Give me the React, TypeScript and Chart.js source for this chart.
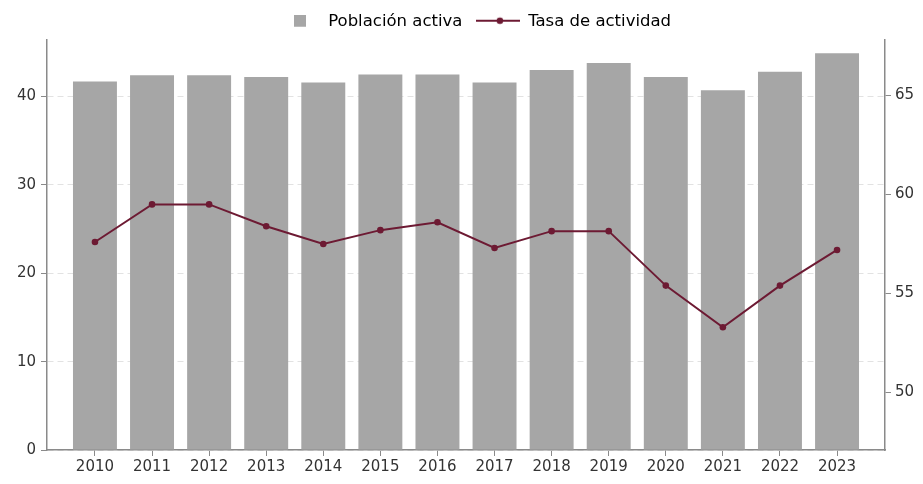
import React, { useEffect, useRef } from "react";
import { Chart, registerables } from "chart.js";

Chart.register(...registerables);

const YEARS = [2010, 2011, 2012, 2013, 2014, 2015, 2016, 2017, 2018, 2019, 2020, 2021, 2022, 2023];
const POBLACION_ACTIVA = [41.7, 42.4, 42.4, 42.2, 41.6, 42.5, 42.5, 41.6, 43.0, 43.8, 42.2, 40.7, 42.8, 44.9];
const TASA_ACTIVIDAD = [57.6, 59.5, 59.5, 58.4, 57.5, 58.2, 58.6, 57.3, 58.15, 58.15, 55.4, 53.3, 55.4, 57.2];
const LEFT_TICKS = [0, 10, 20, 30, 40];
const RIGHT_TICKS = [50, 55, 60, 65];
const LABEL_BAR = "Población activa";
const LABEL_LINE = "Tasa de actividad";

const BAR_COLOR = "#a6a6a6";
const LINE_COLOR = "#6d1a33";
const AXIS_COLOR = "#8a8a8a";
const TEXT_COLOR = "#333333";
const FONT = "'DejaVu Sans', sans-serif";

function makeSymbol(kind: "bar" | "line"): HTMLCanvasElement {
  const c = document.createElement("canvas");
  c.width = 44;
  c.height = 14;
  const ctx = c.getContext("2d")!;
  if (kind === "bar") {
    ctx.fillStyle = BAR_COLOR;
    ctx.fillRect(18, 0, 12, 12);
  } else {
    ctx.strokeStyle = LINE_COLOR;
    ctx.fillStyle = LINE_COLOR;
    ctx.lineWidth = 2;
    ctx.beginPath();
    ctx.moveTo(0, 6);
    ctx.lineTo(44, 6);
    ctx.stroke();
    ctx.beginPath();
    ctx.arc(24, 6, 3.3, 0, Math.PI * 2);
    ctx.fill();
  }
  return c;
}

const legendShift = {
  id: "legendShift",
  afterLayout(chart: any) {
    if (chart.legend) {
      chart.legend.left += 12;
      chart.legend.right += 12;
    }
  },
};

export default function App() {
  const ref = useRef<HTMLCanvasElement | null>(null);

  useEffect(() => {
    if (!ref.current) return;
    const barSym = makeSymbol("bar");
    const lineSym = makeSymbol("line");
    const chart = new Chart(ref.current, {
      type: "bar",
      plugins: [legendShift],
      data: {
        datasets: [
          {
            type: "line",
            label: LABEL_LINE,
            data: YEARS.map((x, i) => ({ x, y: TASA_ACTIVIDAD[i] })),
            yAxisID: "y1",
            borderColor: LINE_COLOR,
            backgroundColor: LINE_COLOR,
            borderWidth: 2,
            pointRadius: 3.3,
            pointBackgroundColor: LINE_COLOR,
            pointBorderWidth: 0,
            tension: 0,
            order: 0,
          } as any,
          {
            type: "bar",
            label: LABEL_BAR,
            data: YEARS.map((x, i) => ({ x, y: POBLACION_ACTIVA[i] })),
            yAxisID: "y",
            backgroundColor: BAR_COLOR,
            borderWidth: 0,
            categoryPercentage: 1,
            barPercentage: 0.77,
            order: 1,
          } as any,
        ],
      },
      options: {
        responsive: false,
        animation: false,
        maintainAspectRatio: false,
        layout: { padding: 0 },
        plugins: {
          tooltip: { enabled: false },
          legend: {
            display: true,
            position: "top",
            labels: {
              usePointStyle: true,
              pointStyleWidth: 44,
              boxHeight: 13,
              padding: 13.5,
              color: TEXT_COLOR,
              font: { family: FONT, size: 16.5 },
              generateLabels: () => [
                { text: LABEL_BAR, pointStyle: barSym, fillStyle: BAR_COLOR, strokeStyle: BAR_COLOR, lineWidth: 0, hidden: false, datasetIndex: 1 } as any,
                { text: LABEL_LINE, pointStyle: lineSym, fillStyle: LINE_COLOR, strokeStyle: LINE_COLOR, lineWidth: 0, hidden: false, datasetIndex: 0 } as any,
              ],
            },
          },
        },
        scales: {
          x: {
            type: "linear",
            offset: false,
            min: YEARS[0] - 0.84,
            max: YEARS[YEARS.length - 1] + 0.84,
            afterFit: (s: any) => { s.height = 34; },
            afterBuildTicks: (s: any) => { s.ticks = YEARS.map((v) => ({ value: v })); },
            ticks: {
              callback: (v: any) => String(v),
              color: TEXT_COLOR,
              font: { family: FONT, size: 15 },
              padding: 2,
              maxRotation: 0,
              autoSkip: false,
            },
            grid: { display: true, offset: false, drawOnChartArea: false, drawTicks: true, tickLength: 6, tickColor: AXIS_COLOR, color: AXIS_COLOR },
            border: { display: true, color: AXIS_COLOR, width: 1.5 },
          },
          y: {
            type: "linear",
            position: "left",
            min: 0,
            max: 46.4,
            afterFit: (s: any) => { s.width = 47; },
            afterBuildTicks: (s: any) => { s.ticks = LEFT_TICKS.map((v) => ({ value: v })); },
            ticks: { color: TEXT_COLOR, font: { family: FONT, size: 15 }, padding: 5 },
            grid: { display: true, drawOnChartArea: true, drawTicks: true, tickLength: 6, color: "#e2e2e2", tickColor: AXIS_COLOR, tickBorderDash: [] },
            border: { display: true, color: AXIS_COLOR, width: 1.5, dash: [6, 4] },
          },
          y1: {
            type: "linear",
            position: "right",
            min: 47.1,
            max: 67.8,
            afterFit: (s: any) => { s.width = 38; },
            afterBuildTicks: (s: any) => { s.ticks = RIGHT_TICKS.map((v) => ({ value: v })); },
            ticks: { color: TEXT_COLOR, font: { family: FONT, size: 15 }, padding: 4 },
            grid: { display: true, drawOnChartArea: false, drawTicks: true, tickLength: 6, color: AXIS_COLOR, tickColor: AXIS_COLOR },
            border: { display: true, color: AXIS_COLOR, width: 1.5 },
          },
        },
      } as any,
    });
    return () => chart.destroy();
  }, []);

  return (
    <div style={{ position: "fixed", left: 0, top: 0, width: 923, height: 484, background: "#fff" }}>
      <canvas ref={ref} width={923} height={484} style={{ display: "block" }} />
    </div>
  );
}
